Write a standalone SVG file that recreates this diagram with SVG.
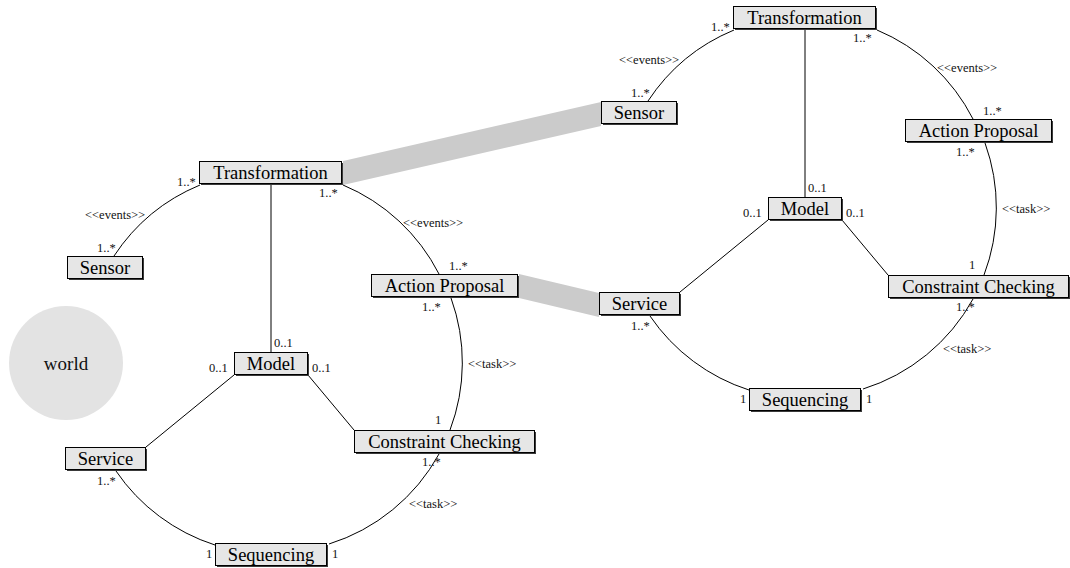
<svg xmlns="http://www.w3.org/2000/svg" width="1070" height="568" viewBox="0 0 1070 568">
  <style>
    .box { fill: #e6e6e6; stroke: #000; stroke-width: 1; }
    .shadow { fill: #3a3a3a; }
    .name { font-family: "Liberation Serif", "Times New Roman", serif; font-size: 18.5px; fill: #000; text-anchor: middle; }
    .mult { font-family: "Liberation Serif", "Times New Roman", serif; font-size: 12.5px; fill: #111; }
    .stereo { font-family: "Liberation Serif", "Times New Roman", serif; font-size: 12.5px; fill: #111; }
    .wire { fill: none; stroke: #000; stroke-width: 1; }
    .band { fill: #cbcbcb; }
  </style>

  <!-- environment -->
  <g id="world">
    <circle cx="66" cy="363" r="57" fill="#e3e3e3"/>
    <text x="66" y="370" font-family="Liberation Serif, serif" font-size="19px" text-anchor="middle" fill="#111">world</text>
  </g>

  <!-- wide grey links between the two agents -->
  <g id="agent-links">
    <polygon class="band" points="343,161 601,102 601,126 343,185"/>
    <polygon class="band" points="519,274 599,293 599,317 519,298"/>
  </g>

  <!-- connectors: one set per agent, second agent shifted -->
  <g id="connectors">
    <g id="connectors-a">
      <path class="wire" d="M200,185 A190,190 0 0 0 114,256"/>
      <path class="wire" d="M343,185 A190,190 0 0 1 439,274"/>
      <path class="wire" d="M451,298 A190,190 0 0 1 450,430"/>
      <path class="wire" d="M439,454 A190,190 0 0 1 329,544"/>
      <path class="wire" d="M116,471 A190,190 0 0 0 215,545"/>
      <line class="wire" x1="271" y1="183" x2="271" y2="352"/>
      <line class="wire" x1="234" y1="375" x2="146" y2="447"/>
      <line class="wire" x1="308" y1="375" x2="354" y2="430"/>
    </g>
    <g id="connectors-b" transform="translate(534,-155)">
      <path class="wire" d="M200,185 A190,190 0 0 0 114,256"/>
      <path class="wire" d="M343,185 A190,190 0 0 1 439,274"/>
      <path class="wire" d="M451,298 A190,190 0 0 1 450,430"/>
      <path class="wire" d="M439,454 A190,190 0 0 1 329,544"/>
      <path class="wire" d="M116,471 A190,190 0 0 0 215,545"/>
      <line class="wire" x1="271" y1="183" x2="271" y2="352"/>
      <line class="wire" x1="234" y1="375" x2="146" y2="447"/>
      <line class="wire" x1="308" y1="375" x2="354" y2="430"/>
    </g>
  </g>

  <!-- agent A -->
  <g id="agent-a">
    <g id="a-transformation">
      <rect class="shadow" x="201" y="163" width="142" height="22"/>
      <rect class="box" x="199.5" y="161.5" width="142" height="22"/>
      <text class="name" x="270.5" y="178.5">Transformation</text>
    </g>
    <g id="a-sensor">
      <rect class="shadow" x="69" y="258" width="75" height="22"/>
      <rect class="box" x="67.5" y="256.5" width="75" height="22"/>
      <text class="name" x="105" y="273.5">Sensor</text>
    </g>
    <g id="a-action-proposal">
      <rect class="shadow" x="373" y="276" width="146" height="22"/>
      <rect class="box" x="371.5" y="274.5" width="146" height="22"/>
      <text class="name" x="444.5" y="291.5">Action Proposal</text>
    </g>
    <g id="a-model">
      <rect class="shadow" x="236" y="354" width="73" height="22"/>
      <rect class="box" x="234.5" y="352.5" width="73" height="22"/>
      <text class="name" x="271" y="369.5">Model</text>
    </g>
    <g id="a-constraint-checking">
      <rect class="shadow" x="356" y="432" width="180" height="22"/>
      <rect class="box" x="354.5" y="430.5" width="180" height="22"/>
      <text class="name" x="444.5" y="447.5">Constraint Checking</text>
    </g>
    <g id="a-service">
      <rect class="shadow" x="67" y="449" width="80" height="22"/>
      <rect class="box" x="65.5" y="447.5" width="80" height="22"/>
      <text class="name" x="105.5" y="464.5">Service</text>
    </g>
    <g id="a-sequencing">
      <rect class="shadow" x="217" y="545" width="111" height="22"/>
      <rect class="box" x="215.5" y="543.5" width="111" height="22"/>
      <text class="name" x="271" y="560.5">Sequencing</text>
    </g>
    <g id="a-labels">
      <text class="mult" x="177" y="186">1..*</text>
      <text class="stereo" x="85" y="219">&lt;&lt;events&gt;&gt;</text>
      <text class="mult" x="97" y="252">1..*</text>
      <text class="mult" x="319" y="197">1..*</text>
      <text class="stereo" x="403" y="227">&lt;&lt;events&gt;&gt;</text>
      <text class="mult" x="449" y="270">1..*</text>
      <text class="mult" x="422" y="311">1..*</text>
      <text class="mult" x="274" y="347">0..1</text>
      <text class="mult" x="209" y="372">0..1</text>
      <text class="mult" x="312" y="372">0..1</text>
      <text class="stereo" x="468" y="368">&lt;&lt;task&gt;&gt;</text>
      <text class="mult" x="435" y="424">1</text>
      <text class="mult" x="422" y="466">1..*</text>
      <text class="stereo" x="409" y="508">&lt;&lt;task&gt;&gt;</text>
      <text class="mult" x="97" y="485">1..*</text>
      <text class="mult" x="206" y="558">1</text>
      <text class="mult" x="332" y="558">1</text>
    </g>
  </g>

  <!-- agent B: same layout, shifted -->
  <g id="agent-b" transform="translate(534,-155)">
    <g id="b-transformation">
      <rect class="shadow" x="201" y="163" width="142" height="22"/>
      <rect class="box" x="199.5" y="161.5" width="142" height="22"/>
      <text class="name" x="270.5" y="178.5">Transformation</text>
    </g>
    <g id="b-sensor">
      <rect class="shadow" x="69" y="258" width="75" height="22"/>
      <rect class="box" x="67.5" y="256.5" width="75" height="22"/>
      <text class="name" x="105" y="273.5">Sensor</text>
    </g>
    <g id="b-action-proposal">
      <rect class="shadow" x="373" y="276" width="146" height="22"/>
      <rect class="box" x="371.5" y="274.5" width="146" height="22"/>
      <text class="name" x="444.5" y="291.5">Action Proposal</text>
    </g>
    <g id="b-model">
      <rect class="shadow" x="236" y="354" width="73" height="22"/>
      <rect class="box" x="234.5" y="352.5" width="73" height="22"/>
      <text class="name" x="271" y="369.5">Model</text>
    </g>
    <g id="b-constraint-checking">
      <rect class="shadow" x="356" y="432" width="180" height="22"/>
      <rect class="box" x="354.5" y="430.5" width="180" height="22"/>
      <text class="name" x="444.5" y="447.5">Constraint Checking</text>
    </g>
    <g id="b-service">
      <rect class="shadow" x="67" y="449" width="80" height="22"/>
      <rect class="box" x="65.5" y="447.5" width="80" height="22"/>
      <text class="name" x="105.5" y="464.5">Service</text>
    </g>
    <g id="b-sequencing">
      <rect class="shadow" x="217" y="545" width="111" height="22"/>
      <rect class="box" x="215.5" y="543.5" width="111" height="22"/>
      <text class="name" x="271" y="560.5">Sequencing</text>
    </g>
    <g id="b-labels">
      <text class="mult" x="177" y="186">1..*</text>
      <text class="stereo" x="85" y="219">&lt;&lt;events&gt;&gt;</text>
      <text class="mult" x="97" y="252">1..*</text>
      <text class="mult" x="319" y="197">1..*</text>
      <text class="stereo" x="403" y="227">&lt;&lt;events&gt;&gt;</text>
      <text class="mult" x="449" y="270">1..*</text>
      <text class="mult" x="422" y="311">1..*</text>
      <text class="mult" x="274" y="347">0..1</text>
      <text class="mult" x="209" y="372">0..1</text>
      <text class="mult" x="312" y="372">0..1</text>
      <text class="stereo" x="468" y="368">&lt;&lt;task&gt;&gt;</text>
      <text class="mult" x="435" y="424">1</text>
      <text class="mult" x="422" y="466">1..*</text>
      <text class="stereo" x="409" y="508">&lt;&lt;task&gt;&gt;</text>
      <text class="mult" x="97" y="485">1..*</text>
      <text class="mult" x="206" y="558">1</text>
      <text class="mult" x="332" y="558">1</text>
    </g>
  </g>
</svg>
